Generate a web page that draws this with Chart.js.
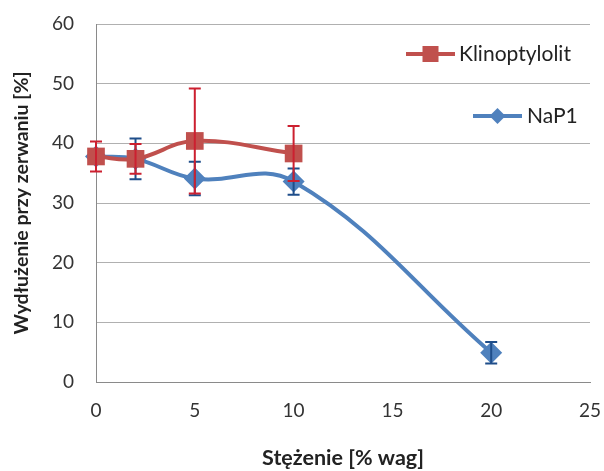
<!DOCTYPE html>
<html>
<head>
<meta charset="utf-8">
<script src="https://cdn.jsdelivr.net/npm/chart.js@4/dist/chart.umd.min.js"></script>
<style>
html,body{margin:0;padding:0;background:#fff;}
#wrap{width:604px;height:471px;}
</style>
</head>
<body>
<div id="wrap"><canvas id="c" width="604" height="471"></canvas></div>
<script>
// Data
const klinoX = [0, 2, 5, 10];
const klinoY = [37.8, 37.4, 40.4, 38.3];
const klinoErr = [2.5, 2.5, 8.8, 4.6];
const napX = [0, 2, 5, 10, 20];
const napY = [37.8, 37.4, 34.1, 33.6, 4.9];
const napErr = [1.2, 3.4, 2.8, 2.2, 1.8];
const xTicks = [0, 5, 10, 15, 20, 25];
const yTicks = [0, 10, 20, 30, 40, 50, 60];
const seriesNames = ['Klinoptylolit', 'NaP1'];

const FONT = 'Lato, "Open Sans", sans-serif';
const RED = '#C0504D', BLUE = '#4F81BD';
const RED_ERR = '#CC2030', BLUE_ERR = '#1F4E8A';

function pts(xs, ys){ return xs.map((x,i)=>({x:x, y:ys[i]})); }
const errs = [klinoErr, napErr];
const errColors = [RED_ERR, BLUE_ERR];

const errorBars = {
  id: 'errorBars',
  afterDatasetDraw(chart, args){
    const i = args.index;
    const ds = chart.data.datasets[i];
    const e = errs[i];
    const xs = chart.scales.x, ys = chart.scales.y;
    const ctx = chart.ctx;
    ctx.save();
    ctx.strokeStyle = errColors[i];
    ctx.lineWidth = 2;
    ds.data.forEach((p, k) => {
      const px = xs.getPixelForValue(p.x);
      const top = ys.getPixelForValue(p.y + e[k]);
      const bot = ys.getPixelForValue(p.y - e[k]);
      ctx.beginPath();
      ctx.moveTo(px, top); ctx.lineTo(px, bot);
      ctx.moveTo(px - 6, top); ctx.lineTo(px + 6, top);
      ctx.moveTo(px - 6, bot); ctx.lineTo(px + 6, bot);
      ctx.stroke();
    });
    ctx.restore();
  }
};

const customLegend = {
  id: 'customLegend',
  afterDraw(chart){
    const ctx = chart.ctx;
    ctx.save();
    const items = [
      {name: seriesNames[0], color: RED, style: 'rect', x0: 406, x1: 455, y: 54, tx: 459},
      {name: seriesNames[1], color: BLUE, style: 'rectRot', x0: 473, x1: 522, y: 116, tx: 527}
    ];
    items.forEach(it => {
      ctx.strokeStyle = it.color;
      ctx.lineWidth = 4;
      ctx.beginPath();
      ctx.moveTo(it.x0, it.y); ctx.lineTo(it.x1, it.y);
      ctx.stroke();
      const cx = (it.x0 + it.x1) / 2;
      ctx.fillStyle = it.color;
      if (it.style === 'rect') {
        ctx.fillRect(cx - 8, it.y - 8, 16, 16);
      } else {
        ctx.beginPath();
        ctx.moveTo(cx - 8, it.y); ctx.lineTo(cx, it.y - 8);
        ctx.lineTo(cx + 8, it.y); ctx.lineTo(cx, it.y + 8);
        ctx.closePath(); ctx.fill();
      }
      ctx.fillStyle = '#222';
      ctx.font = '21px ' + FONT;
      ctx.textBaseline = 'middle';
      ctx.textAlign = 'left';
      ctx.fillText(it.name, it.tx, it.y);
    });
    ctx.restore();
  }
};

new Chart(document.getElementById('c'), {
  type: 'line',
  data: {
    datasets: [
      {
        label: seriesNames[0],
        data: pts(klinoX, klinoY),
        borderColor: RED, backgroundColor: RED,
        borderWidth: 4, tension: 0.4, clip: false,
        pointStyle: 'rect', pointRadius: 12.5, pointBorderWidth: 0,
        pointBackgroundColor: RED, pointBorderColor: RED
      },
      {
        label: seriesNames[1],
        data: pts(napX, napY),
        borderColor: BLUE, backgroundColor: BLUE,
        borderWidth: 4, tension: 0.4, clip: false,
        pointStyle: 'rectRot', pointRadius: 11, pointBorderWidth: 0,
        pointBackgroundColor: BLUE, pointBorderColor: BLUE
      }
    ]
  },
  options: {
    responsive: false,
    animation: false,
    layout: {padding: {left: 0, right: 14, top: 24, bottom: 0}},
    plugins: {legend: {display: false}, tooltip: {enabled: false}},
    scales: {
      x: {
        type: 'linear', min: 0, max: 25,
        afterBuildTicks(s){ s.ticks = xTicks.map(v => ({value: v})); },
        afterFit(s){ s.height = 89; s.paddingLeft = 0; s.paddingRight = 0; },
        grid: {display: false, drawTicks: false},
        border: {color: '#8a8a8a', width: 1},
        ticks: {color: '#333', font: {family: FONT, size: 19}, padding: 17},
        title: {display: true, text: 'Stężenie [% wag]', color: '#222',
                font: {family: FONT, size: 21.5, weight: 'bold'}, padding: {top: 0, bottom: 0}}
      },
      y: {
        min: 0, max: 60,
        afterBuildTicks(s){ s.ticks = yTicks.map(v => ({value: v})); },
        afterFit(s){ s.width = 96; s.paddingTop = 0; s.paddingBottom = 0; },
        grid: {color: '#b0b0b0', lineWidth: 1, drawTicks: false},
        border: {color: '#8a8a8a', width: 1},
        ticks: {color: '#333', font: {family: FONT, size: 19}, padding: 22},
        title: {display: true, text: 'Wydłużenie przy zerwaniu [%]', color: '#222',
                font: {family: FONT, size: 19.5, weight: 'bold'}, padding: {top: 10, bottom: 0}}
      }
    }
  },
  plugins: [errorBars, customLegend]
});
</script>
</body>
</html>
